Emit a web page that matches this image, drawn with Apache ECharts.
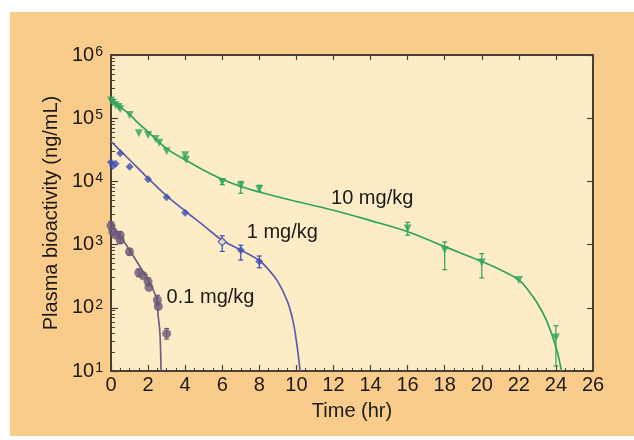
<!DOCTYPE html>
<html>
<head>
<meta charset="utf-8">
<script src="https://cdn.jsdelivr.net/npm/echarts@6/dist/echarts.min.js"></script>
<style>
  html, body { margin: 0; padding: 0; background: #ffffff; }
  #chart { width: 634px; height: 440px; }
</style>
</head>
<body>
<div id="chart"></div>
<script>
// ---- Plasma bioactivity after dosing, three dose levels ----

// 10 mg/kg: measured points
const hiDoseT = [0, 0.1, 0.25, 0.4, 0.5, 1, 1.5, 2, 2.4, 2.6, 3, 4, 4.05, 6, 7, 8, 16, 18, 20, 22, 24];
const hiDoseV = [190000, 175000, 160000, 150000, 140000, 112000, 58000, 54000, 47000, 41000, 30000, 26000, 22000, 9800, 8500, 7600, 1800, 820, 520, 275, 34];
// 10 mg/kg: error bars
const hiErrT  = [6, 7, 8, 16, 18, 20, 24];
const hiErrLo = [8900, 6500, 6900, 1410, 400, 296, 12];
const hiErrHi = [10800, 10000, 8700, 2250, 1100, 720, 52];
// 10 mg/kg: fitted curve
const hiFitT = [0, 0.5, 1, 1.5, 2, 3, 4, 5, 6, 7, 8, 10, 12, 14, 16, 18, 20, 21, 22, 22.5, 23, 23.5, 24, 24.3];
const hiFitV = [200000, 150000, 115000, 82000, 61000, 33000, 22000, 15000, 10800, 8300, 6800, 4800, 3500, 2400, 1600, 930, 540, 400, 275, 190, 118, 62, 24, 10];

// 1 mg/kg: measured points (6 h sample drawn open)
const midDoseT = [0, 0.1, 0.25, 0.5, 1, 2, 3, 4, 6, 7, 8];
const midDoseV = [20000, 17500, 19000, 28000, 17000, 10800, 5600, 3200, 1110, 820, 540];
const midOpenT = [6];
// 1 mg/kg: error bars
const midErrT  = [6, 7, 8];
const midErrLo = [780, 570, 430];
const midErrHi = [1380, 980, 660];
// 1 mg/kg: fitted curve
const midFitT = [0, 1, 2, 3, 4, 5, 6, 7, 8, 8.5, 9, 9.5, 9.8, 10, 10.2];
const midFitV = [43000, 22000, 11200, 5900, 3400, 2000, 1170, 820, 560, 400, 260, 130, 65, 30, 10];

// 0.1 mg/kg: measured points
const loDoseT = [0, 0.1, 0.25, 0.5, 0.5, 1, 1.5, 1.75, 2, 2.05, 2.5, 2.55, 3];
const loDoseV = [2000, 1600, 1420, 1400, 1180, 770, 360, 320, 260, 210, 133, 105, 39];
// 0.1 mg/kg: small error bars
const loErrT  = [0, 0.5, 1, 1.5, 2, 2.5, 3];
const loErrLo = [1750, 1050, 690, 310, 225, 112, 32];
const loErrHi = [2300, 1600, 860, 410, 300, 158, 47];
// 0.1 mg/kg: fitted curve
const loFitT = [0, 0.5, 1, 1.5, 2, 2.25, 2.47, 2.55, 2.64, 2.7];
const loFitV = [2200, 1350, 820, 480, 275, 200, 133, 72, 40, 10];

// Curve annotations
const doseLabels = ['10 mg/kg', '1 mg/kg', '0.1 mg/kg'];
const labelT = [11.87, 7.32, 3.0];
const labelV = [5270, 1580, 143];

// Axis ticks
const xTicks = [0, 2, 4, 6, 8, 10, 12, 14, 16, 18, 20, 22, 24, 26];

const GREEN = '#2fa55a';
const BLUE_LINE = '#5c5fae';
const BLUE_PT = '#3d4fb3';
const PURPLE_LINE = '#6f6180';
const PURPLE_PT = '#6a5677';
const FRAME = '#4a4038';
const TEXT = '#1c1a18';
const FONT = '"Liberation Sans", Arial, sans-serif';

const zip = (a, b) => a.map((v, i) => [v, b[i]]);
const zip3 = (a, b, c) => a.map((v, i) => [v, b[i], c[i]]);

// minor ticks on the log axis: 2..9 within each decade
const minorY = [];
for (let d = 1; d < 6; d++) {
  for (let k = 2; k <= 9; k++) minorY.push(k * Math.pow(10, d));
}

function errorBars(color) {
  return function (params, api) {
    const x = api.value(0);
    const a = api.coord([x, api.value(1)]);
    const b = api.coord([x, api.value(2)]);
    const c = 2.5;
    const st = { stroke: color, lineWidth: 1.2 };
    return {
      type: 'group',
      children: [
        { type: 'line', shape: { x1: a[0], y1: a[1], x2: b[0], y2: b[1] }, style: st },
        { type: 'line', shape: { x1: a[0] - c, y1: a[1], x2: a[0] + c, y2: a[1] }, style: st },
        { type: 'line', shape: { x1: b[0] - c, y1: b[1], x2: b[0] + c, y2: b[1] }, style: st }
      ]
    };
  };
}

function annotation(i, color) {
  return {
    symbol: 'circle',
    symbolSize: 0,
    data: [{ coord: [labelT[i], labelV[i]] }],
    label: {
      show: true,
      position: 'right',
      distance: 0,
      align: 'left',
      verticalAlign: 'middle',
      formatter: doseLabels[i],
      fontFamily: FONT,
      fontSize: 20,
      color: TEXT
    },
    itemStyle: { color: color }
  };
}

const chart = echarts.init(document.getElementById('chart'), null, { renderer: 'canvas' });

chart.setOption({
  animation: false,
  backgroundColor: '#ffffff',
  graphic: [{
    type: 'rect',
    z: -10,
    shape: { x: 10, y: 12, width: 624, height: 424 },
    style: { fill: '#f9cc8c' }
  }],
  grid: {
    left: 111, right: 41, top: 55, bottom: 69,
    show: true,
    backgroundColor: '#fdecc6',
    borderWidth: 0
  },
  xAxis: [{
    type: 'value', min: 0, max: 26, interval: 2, position: 'bottom',
    axisLine: { show: true, onZero: false, lineStyle: { color: FRAME, width: 2 } },
    axisTick: { show: true, inside: true, length: 6, lineStyle: { color: FRAME, width: 1.2 }, customValues: xTicks },
    minorTick: { show: true, splitNumber: 4, length: 3, lineStyle: { color: FRAME, width: 1 } },
    axisLabel: { fontFamily: FONT, fontSize: 20, color: TEXT, margin: 4, customValues: xTicks },
    splitLine: { show: false },
    name: 'Time (hr)', nameLocation: 'middle', nameGap: 30,
    nameTextStyle: { fontFamily: FONT, fontSize: 20, color: TEXT }
  }, {
    type: 'value', min: 0, max: 26, interval: 2, position: 'top',
    axisLine: { show: true, onZero: false, lineStyle: { color: FRAME, width: 2 } },
    axisTick: { show: true, inside: true, length: 5, lineStyle: { color: FRAME, width: 1.2 } },
    axisLabel: { show: false },
    splitLine: { show: false }
  }],
  yAxis: [{
    type: 'log', logBase: 10, min: 10, max: 1000000, position: 'left',
    axisLine: { show: true, onZero: false, lineStyle: { color: FRAME, width: 2 } },
    axisTick: { show: true, inside: true, length: 7, lineStyle: { color: FRAME, width: 1.2 } },
    axisLabel: {
      margin: 8,
      formatter: function (v) {
        return '{b|10}{s|' + Math.round(Math.log10(v)) + '}';
      },
      rich: {
        b: { fontFamily: FONT, fontSize: 20, color: TEXT, lineHeight: 20, verticalAlign: 'bottom' },
        s: { fontFamily: FONT, fontSize: 14, color: TEXT, lineHeight: 14, verticalAlign: 'top', padding: [0, 0, 10, 1] }
      }
    },
    splitLine: { show: false },
    name: 'Plasma bioactivity (ng/mL)', nameLocation: 'middle', nameGap: 49, nameRotate: 90,
    nameTextStyle: { fontFamily: FONT, fontSize: 20, color: TEXT }
  }, {
    type: 'log', logBase: 10, min: 10, max: 1000000, position: 'right',
    axisLine: { show: true, onZero: false, lineStyle: { color: FRAME, width: 2 } },
    axisTick: { show: true, inside: true, length: 6, lineStyle: { color: FRAME, width: 1.2 } },
    axisLabel: { show: false },
    splitLine: { show: false }
  }, {
    type: 'log', logBase: 10, min: 10, max: 1000000, position: 'left',
    axisLine: { show: false },
    axisTick: { show: true, inside: true, length: 4, lineStyle: { color: FRAME, width: 1 }, customValues: minorY },
    axisLabel: { show: false },
    splitLine: { show: false }
  }],
  series: [
    // fitted curves
    {
      type: 'line', name: '10 mg/kg fit', data: zip(hiFitT, hiFitV), smooth: 0.4,
      showSymbol: false, lineStyle: { color: GREEN, width: 1.7 }, z: 3,
      markPoint: annotation(0, GREEN)
    },
    {
      type: 'line', name: '1 mg/kg fit', data: zip(midFitT, midFitV), smooth: 0.4,
      showSymbol: false, lineStyle: { color: BLUE_LINE, width: 1.7 }, z: 3,
      markPoint: annotation(1, BLUE_LINE)
    },
    {
      type: 'line', name: '0.1 mg/kg fit', data: zip(loFitT, loFitV), smooth: 0.4,
      showSymbol: false, lineStyle: { color: PURPLE_LINE, width: 1.7 }, z: 3,
      markPoint: annotation(2, PURPLE_LINE)
    },
    // error bars
    {
      type: 'custom', name: '10 mg/kg sd', data: zip3(hiErrT, hiErrLo, hiErrHi),
      renderItem: errorBars(GREEN), encode: { x: 0, y: [1, 2] }, z: 4
    },
    {
      type: 'custom', name: '1 mg/kg sd', data: zip3(midErrT, midErrLo, midErrHi),
      renderItem: errorBars(BLUE_PT), encode: { x: 0, y: [1, 2] }, z: 4
    },
    {
      type: 'custom', name: '0.1 mg/kg sd', data: zip3(loErrT, loErrLo, loErrHi),
      renderItem: errorBars(PURPLE_PT), encode: { x: 0, y: [1, 2] }, z: 4
    },
    // measured points
    {
      type: 'scatter', name: '10 mg/kg', data: zip(hiDoseT, hiDoseV),
      symbol: 'triangle', symbolRotate: 180, symbolSize: 8,
      itemStyle: { color: GREEN }, z: 5
    },
    {
      type: 'scatter', name: '1 mg/kg',
      data: zip(midDoseT, midDoseV).map(function (p) {
        if (midOpenT.indexOf(p[0]) >= 0) {
          return { value: p, itemStyle: { color: '#fdecc6', borderColor: BLUE_PT, borderWidth: 1.3 } };
        }
        return p;
      }),
      symbol: 'diamond', symbolSize: 8,
      itemStyle: { color: BLUE_PT }, z: 5
    },
    {
      type: 'scatter', name: '0.1 mg/kg', data: zip(loDoseT, loDoseV),
      symbol: 'circle', symbolSize: 9,
      itemStyle: { color: PURPLE_PT }, z: 5
    }
  ]
});
</script>
</body>
</html>
